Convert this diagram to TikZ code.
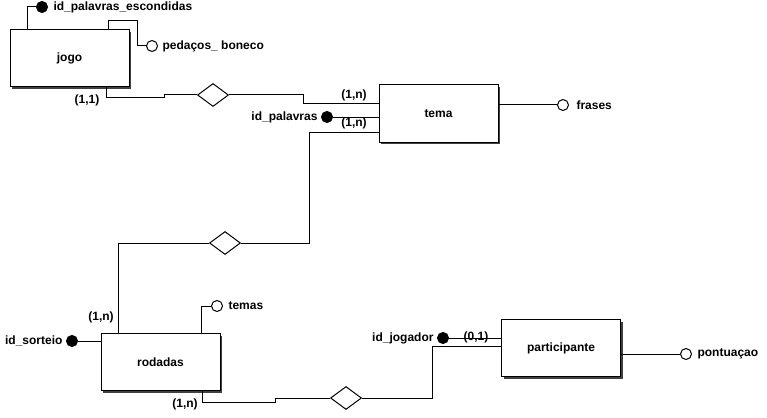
\documentclass[tikz,border=0pt]{standalone}
\usepackage{fontspec}
\setmainfont{Liberation Sans}
\usetikzlibrary{shapes.geometric,shadows}
\begin{document}
\begin{tikzpicture}[x=1pt,y=-1pt,line width=1pt,
  every node/.style={font=\bfseries\fontsize{12}{14}\selectfont},
  entity/.style={draw,fill=white,minimum width=119pt,minimum height=57pt,inner sep=0pt,
    drop shadow={shadow xshift=2pt,shadow yshift=-2pt,fill=black!75,opacity=1}},
  rel/.style={draw,diamond,fill=white,minimum width=31pt,minimum height=23pt,inner sep=0pt},
  keyattr/.style={draw,circle,fill=black,minimum size=11pt,inner sep=0pt},
  attr/.style={draw,circle,fill=white,minimum size=11pt,inner sep=0pt},
  lbl/.style={inner sep=0pt},
  card/.style={inner sep=0pt}]
\useasboundingbox (0,0) rectangle (767,417);

% entities
\node[entity] (jogo) at (69.5,58.5) {jogo};
\node[entity] (tema) at (438.5,113.5) {tema};
\node[entity] (rodadas) at (160.5,362) {rodadas};
\node[entity] (part) at (561,348) {participante};

% relationships
\node[rel] (r1) at (213,95) {};
\node[rel] (r2) at (225,243) {};
\node[rel] (r3) at (346,398) {};

% attributes
\node[keyattr] (a1) at (42,7) {};
\node[lbl,anchor=west] (a1t) at (53,7) {id\_palavras\_escondidas};
\node[attr] (a2) at (152,46) {};
\node[lbl,anchor=west] (a2t) at (162,46) {pedaços\_ boneco};
\node[keyattr] (a3) at (327,117) {};
\node[lbl,anchor=east] (a3t) at (318,117) {id\_palavras};
\node[attr] (a4) at (563,105) {};
\node[lbl,anchor=west] (a4t) at (576,105) {frases};
\node[keyattr] (a5) at (72,341) {};
\node[lbl,anchor=east] (a5t) at (63,341) {id\_sorteio};
\node[attr] (a6) at (217,306) {};
\node[lbl,anchor=west] (a6t) at (228,306) {temas};
\node[keyattr] (a7) at (443,338) {};
\node[lbl,anchor=east] (a7t) at (434,338) {id\_jogador};
\node[attr] (a8) at (686,354) {};
\node[lbl,anchor=west] (a8t) at (697,354) {pontuaçao};

% attribute connectors
\draw (jogo.north -| 27,0) |- (a1.west);
\draw (jogo.north -| 108,0) -- (108,21) -- (137,21) |- (a2.west);
\draw (a3.east) -- (a3.east -| tema.west);
\draw (tema.east |- a4) -- (a4.west);
\draw (a5.east) -- (a5.east -| rodadas.west);
\draw (rodadas.north -| 201,0) |- (a6.west);
\draw (a7.east) -- (a7.east -| part.west);
\draw (part.east |- a8) -- (a8.west);

% relationship connectors
\draw (jogo.south -| 106,0) -- (106,98) -- (164,98) -- (164,95) -- (r1.west);
\draw (r1.east) -- (303,95) -- (303,104) -- (tema.west |- 0,104);
\draw (tema.west |- 0,132) -- (309,132) |- (r2.east);
\draw (r2.west) -| (rodadas.north -| 118,0);
\draw (rodadas.south -| 202,0) -- (202,402) -- (275,402) -- (275,398) -- (r3.west);
\draw (r3.east) -- (432,398) |- (part.west |- 0,346);

% cardinalities
\node[card] (c1) at (87,100) {(1,1)};
\node[card] (c2) at (354,95) {(1,n)};
\node[card] (c3) at (354,123) {(1,n)};
\node[card] (c4) at (101,317) {(1,n)};
\node[card] (c5) at (185,404) {(1,n)};
\node[card] (c6) at (476,337) {(0,1)};
\end{tikzpicture}
\end{document}
